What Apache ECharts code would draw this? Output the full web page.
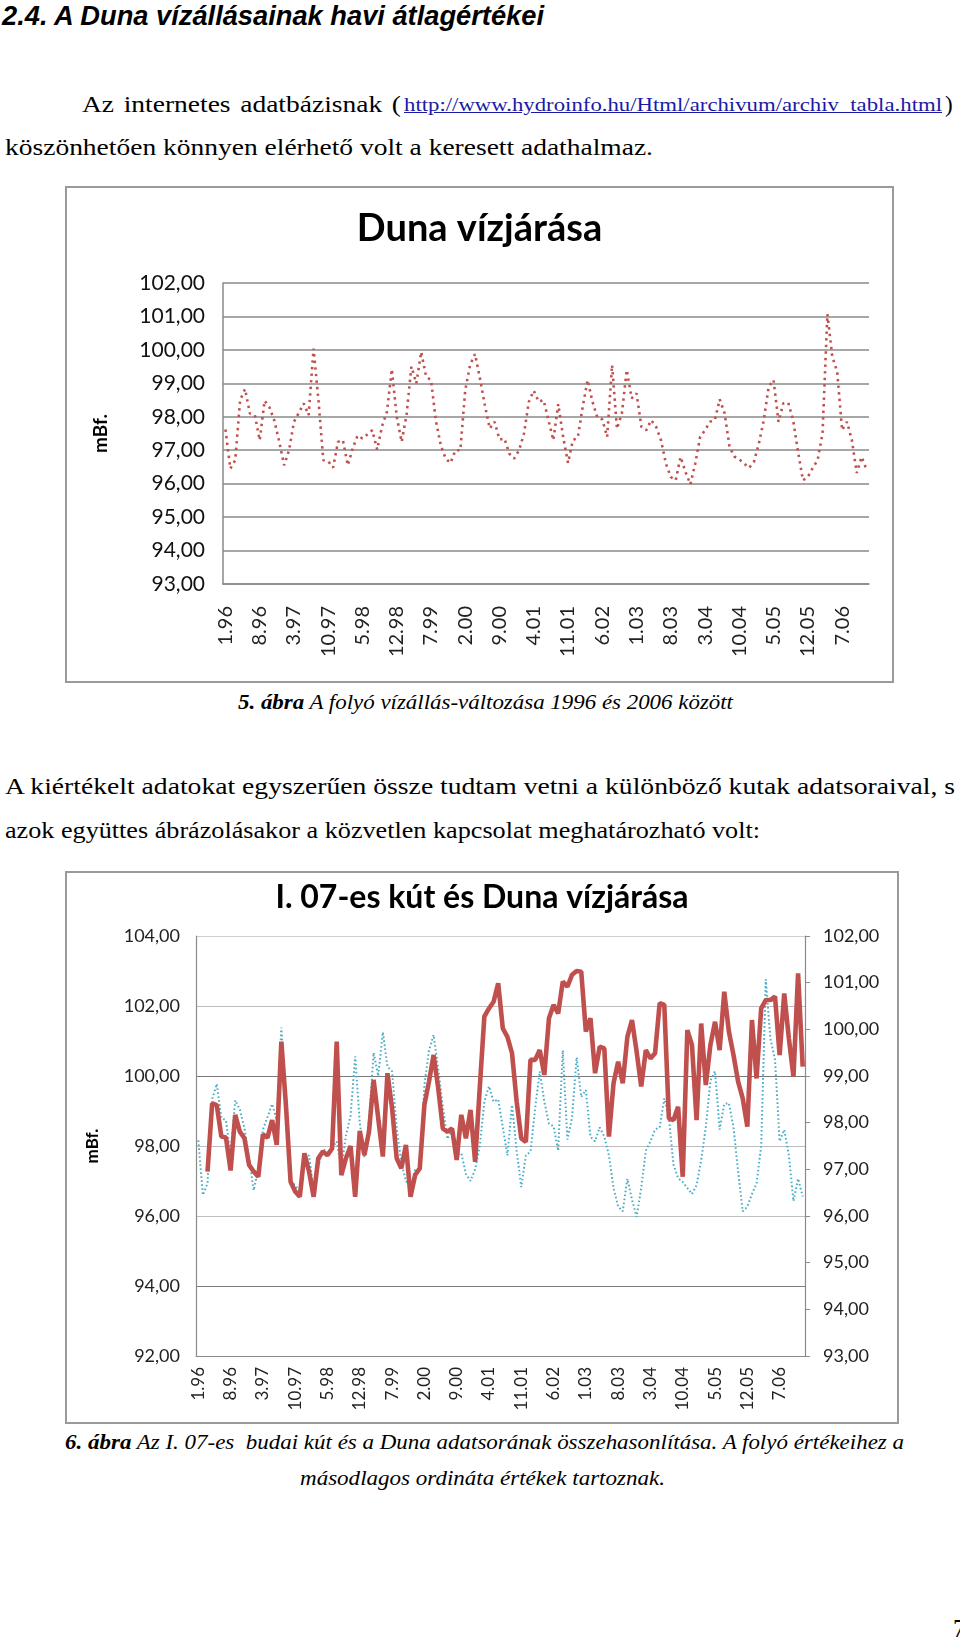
<!DOCTYPE html>
<html>
<head>
<meta charset="utf-8">
<script src="https://cdn.jsdelivr.net/npm/echarts/dist/echarts.min.js"></script>
<style>
  body { margin: 0; background: #fff; width: 960px; height: 1637px; position: relative; overflow: hidden; font-family: "Liberation Serif", serif; color: #000; }
  .t { position: absolute; white-space: pre; line-height: 1; transform-origin: 0 50%; }
  .frame { position: absolute; border: 2px solid #9a9a9a; box-sizing: border-box; }
  .chart { position: absolute; }
  a { color: #1a1aa6; }
</style>
</head>
<body>

<div class="t" data-w="542" style="left:2px;top:1px;font:italic bold 27px 'Liberation Sans',sans-serif;">2.4. A Duna vízállásainak havi átlagértékei</div>

<div class="t" id="line1" style="left:82px;top:93px;font-size:23px;">Az internetes adatbázisnak (</div>
<div class="t" data-w="538" style="left:404px;top:95px;font-size:19px;"><a href="#">http://www.hydroinfo.hu/Html/archivum/archiv_tabla.html</a></div>
<div class="t" style="left:945px;top:93px;font-size:23px;">)</div>
<div class="t" id="line2" data-w="648" style="left:5px;top:136px;font-size:23px;">köszönhetően könnyen elérhető volt a keresett adathalmaz.</div>

<div class="frame" style="left:65px;top:186px;width:829px;height:497px;"></div>
<div class="chart" id="chart1" style="left:65px;top:186px;width:829px;height:497px;"></div>

<div class="t" data-w="495" style="left:238px;top:691px;font-size:22px;font-style:italic;"><b>5. ábra</b> A folyó vízállás-változása 1996 és 2006 között</div>

<div class="t" data-w="950" style="left:5px;top:775px;font-size:23px;">A kiértékelt adatokat egyszerűen össze tudtam vetni a különböző kutak adatsoraival, s</div>
<div class="t" data-w="755" style="left:5px;top:819px;font-size:23px;">azok együttes ábrázolásakor a közvetlen kapcsolat meghatározható volt:</div>

<div class="frame" style="left:65px;top:871px;width:834px;height:553px;"></div>
<div class="chart" id="chart2" style="left:65px;top:871px;width:834px;height:553px;"></div>

<div class="t" data-w="839" style="left:65px;top:1431px;font-size:22px;font-style:italic;"><b>6. ábra</b> Az I. 07-es  budai kút és a Duna adatsorának összehasonlítása. A folyó értékeihez a</div>
<div class="t" data-w="365" style="left:300px;top:1467px;font-size:22px;font-style:italic;">másodlagos ordináta értékek tartoznak.</div>

<div class="t" style="left:953px;top:1616px;font-size:25px;">7</div>

<script>
// havi átlagok 1996.01 - 2006.12
const years = ['96', '97', '98', '99', '00', '01', '02', '03', '04', '05', '06'];
const categories = [];
years.forEach(y => { for (let m = 1; m <= 12; m++) categories.push(m + '.' + y); });

// Duna vízállás (mBf.)
const duna = [
  97.62, 96.45, 96.70, 98.50, 98.83, 98.10, 98.05, 97.30, 98.48, 98.28, 97.88, 97.25,
  96.55, 97.00, 97.85, 98.12, 98.40, 98.05, 100.04, 98.50, 96.70, 96.67, 96.48, 97.25,
  97.30, 96.55, 97.05, 97.44, 97.35, 97.47, 97.60, 97.02, 97.72, 98.15, 99.42, 98.00,
  97.25, 98.05, 99.50, 99.00, 99.94, 99.20, 99.10, 97.88, 97.15, 96.75, 96.62, 97.00,
  97.00, 98.80, 99.55, 99.88, 99.15, 98.35, 97.65, 97.85, 97.32, 97.35, 96.90, 96.75,
  97.00, 97.50, 98.45, 98.78, 98.45, 98.50, 97.90, 97.30, 98.38, 97.40, 96.62, 97.30,
  97.38, 98.30, 99.10, 98.45, 97.98, 97.92, 97.40, 99.55, 97.64, 98.10, 99.40, 98.55,
  98.70, 97.70, 97.60, 97.90, 97.70, 97.30, 96.60, 96.20, 96.10, 96.80, 96.35, 95.98,
  96.60, 97.40, 97.60, 97.85, 97.90, 98.52, 98.10, 97.10, 96.81, 96.73, 96.60, 96.47,
  96.66, 97.20, 97.90, 98.90, 99.10, 97.85, 98.40, 98.42, 97.90, 96.96, 96.10, 96.20,
  96.47, 96.70, 97.50, 101.07, 99.80, 99.35, 97.60, 97.85, 97.30, 96.32, 96.80, 96.42
];

// I. 07-es kút vízszint (mBf.)
const kut = [
  null, null, 97.27, 99.22, 99.17, 98.27, 98.24, 97.30, 98.89, 98.41, 98.22, 97.46,
  97.27, 97.12, 98.33, 98.24, 98.74, 98.03, 100.98, 99.15, 96.98, 96.70, 96.55, 97.79,
  97.27, 96.55, 97.65, 97.84, 97.74, 97.93, 100.98, 97.17, 97.65, 98.00, 96.55, 98.43,
  97.74, 98.41, 99.89, 98.79, 97.70, 100.08, 99.08, 97.65, 97.36, 98.03, 96.55, 97.17,
  97.36, 99.17, 99.84, 100.60, 99.65, 98.50, 98.41, 98.50, 97.60, 98.89, 98.22, 99.03,
  97.55, 99.65, 101.70, 101.93, 102.12, 102.65, 101.36, 101.12, 100.65, 99.27, 98.22, 98.12,
  100.46, 100.46, 100.74, 100.03, 101.65, 102.03, 101.79, 102.70, 102.55, 102.89, 103.00, 102.98,
  101.27, 101.65, 100.08, 100.84, 100.79, 98.27, 99.79, 100.41, 99.79, 101.12, 101.60, 100.70,
  99.70, 100.74, 100.50, 100.65, 102.08, 102.03, 98.79, 98.74, 99.12, 97.12, 101.31, 100.89,
  98.74, 101.50, 99.74, 100.89, 101.55, 100.74, 102.41, 101.27, 100.60, 99.84, 99.36, 98.55,
  101.60, 99.93, 101.93, 102.17, 102.17, 102.27, 100.60, 102.36, 101.08, 99.98, 102.93, 100.27
];

const fmt = v => v.toFixed(2).replace('.', ',');
const red = '#c0504d';
const teal = '#4bacc6';

const chart1 = echarts.init(document.getElementById('chart1'));
chart1.setOption({
  animation: false,
  title: {
    text: 'Duna vízjárása', left: 'center', top: 24, padding: 0,
    textStyle: { fontFamily: 'Lato', fontWeight: 'bold', fontSize: 38, color: '#000' }
  },
  grid: { left: 158, right: 25, top: 97, bottom: 99 },
  xAxis: {
    type: 'category', data: categories, boundaryGap: true,
    axisLine: { lineStyle: { color: '#8a8a8a', width: 1.5 } },
    axisTick: { show: false },
    axisLabel: { interval: 6, rotate: 90, margin: 22, fontFamily: 'Lato', fontSize: 20, color: '#222' }
  },
  yAxis: {
    type: 'value', min: 93, max: 102, interval: 1,
    name: 'mBf.', nameLocation: 'middle', nameGap: 113, nameRotate: 90,
    nameTextStyle: { fontFamily: 'Lato', fontWeight: 'bold', fontSize: 19, color: '#000' },
    axisLine: { show: true, lineStyle: { color: '#8a8a8a', width: 1.5 } },
    axisTick: { show: false },
    axisLabel: { formatter: fmt, margin: 18, fontFamily: 'Lato', fontSize: 21, color: '#111' },
    splitLine: { lineStyle: { color: '#8a8a8a', width: 1.5 } }
  },
  series: [{
    type: 'line', data: duna, symbol: 'none',
    lineStyle: { color: red, width: 2.6, type: [2.4, 4.2] }
  }]
});

const chart2 = echarts.init(document.getElementById('chart2'));
chart2.setOption({
  animation: false,
  title: {
    text: 'I. 07-es kút és Duna vízjárása', left: 'center', top: 11, padding: 0,
    textStyle: { fontFamily: 'Lato', fontWeight: 'bold', fontSize: 32, color: '#000' }
  },
  grid: { left: 131, right: 94, top: 65, bottom: 68 },
  xAxis: {
    type: 'category', data: categories, boundaryGap: true,
    axisLine: { lineStyle: { color: '#8a8a8a', width: 1.2 } },
    axisTick: { show: false },
    axisLabel: { interval: 6, rotate: 90, margin: 11, fontFamily: 'Lato', fontSize: 17, color: '#222' }
  },
  yAxis: [{
    type: 'value', min: 92, max: 104, interval: 2, position: 'left',
    name: 'mBf.', nameLocation: 'middle', nameGap: 95, nameRotate: 90,
    nameTextStyle: { fontFamily: 'Lato', fontWeight: 'bold', fontSize: 17, color: '#000' },
    axisLine: { show: true, lineStyle: { color: '#8a8a8a', width: 1.2 } },
    axisTick: { show: false },
    axisLabel: { formatter: fmt, margin: 16, fontFamily: 'Lato', fontSize: 18, color: '#222' },
    splitLine: { lineStyle: { color: ['#8a8a8a', '#7a7a7a', '#bdbdbd', '#bdbdbd', '#7a7a7a', '#bdbdbd', '#cfcfcf'], width: 1.2 } }
  }, {
    type: 'value', min: 93, max: 102, interval: 1, position: 'right',
    axisLine: { show: true, lineStyle: { color: '#8a8a8a', width: 1.2 } },
    axisTick: { show: true, length: 5, lineStyle: { color: '#8a8a8a' } },
    axisLabel: { formatter: fmt, margin: 18, fontFamily: 'Lato', fontSize: 18, color: '#222' },
    splitLine: { show: false }
  }],
  series: [{
    type: 'line', data: duna, yAxisIndex: 1, symbol: 'none', z: 2,
    lineStyle: { color: teal, width: 2, type: [1.6, 2.4] }
  }, {
    type: 'line', data: kut, yAxisIndex: 0, symbol: 'none', z: 3,
    lineStyle: { color: red, width: 4.6 }
  }]
});

// fit each text line to the width it has in the scan; the first line is justified,
// so it keeps the glyph squeeze of the line below it and gets wider word gaps instead
function fitTexts() {
  document.querySelectorAll('.t[data-w]').forEach(el => {
    el.style.transform = 'none';
    const w = el.getBoundingClientRect().width;
    if (w > 0) el.style.transform = 'scaleX(' + (+el.dataset.w / w) + ')';
  });
  const l1 = document.getElementById('line1');
  const l2 = document.getElementById('line2');
  l2.style.transform = 'none';
  const sx = 648 / l2.getBoundingClientRect().width;
  l2.style.transform = 'scaleX(' + sx + ')';
  l1.style.transform = 'none';
  l1.style.wordSpacing = '0px';
  const w1 = l1.getBoundingClientRect().width;
  const gaps = (l1.textContent.match(/ /g) || []).length;
  l1.style.wordSpacing = Math.max(0, (319 / sx - w1) / gaps) + 'px';
  l1.style.transform = 'scaleX(' + sx + ')';
}
fitTexts();
if (document.fonts && document.fonts.ready) document.fonts.ready.then(fitTexts);
</script>
</body>
</html>
